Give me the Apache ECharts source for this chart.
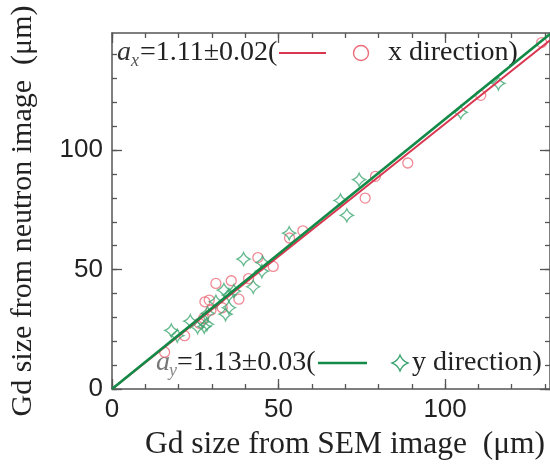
<!DOCTYPE html>
<html>
<head>
<meta charset="utf-8">
<script src="https://cdn.jsdelivr.net/npm/echarts@6/dist/echarts.min.js"></script>
<style>
  html, body { margin: 0; padding: 0; background: #fff; }
  #chart { width: 550px; height: 466px; }
</style>
</head>
<body>
<div id="chart"></div>
<script>
// Gd particle sizes: [size from SEM image, size from neutron image] in µm
var xDirection = [
  [15.8, 15.4], [21.8, 22.3], [26.2, 27.5], [27.5, 29.6], [27.9, 36.5],
  [29.2, 37.2], [29.7, 33.0], [31.2, 44.2], [33.1, 34.0], [35.8, 45.3],
  [38.1, 37.6], [41.0, 46.2], [43.8, 55.0], [48.4, 51.3], [53.3, 63.2],
  [57.3, 66.2], [76.0, 79.9], [79.1, 89.0], [88.8, 94.6], [110.7, 122.9],
  [129.0, 145.0]
];
var yDirection = [
  [17.8, 24.5], [19.6, 22.3], [23.5, 28.4], [25.7, 25.9], [27.2, 28.2],
  [27.7, 26.1], [28.5, 27.1], [28.7, 31.7], [31.2, 36.5], [33.6, 41.4],
  [34.1, 31.3], [35.1, 34.0], [35.1, 39.3], [36.6, 41.0], [39.5, 54.4],
  [42.4, 42.8], [45.2, 52.9], [45.0, 49.3], [53.2, 65.2], [68.6, 78.9],
  [70.5, 72.7], [74.2, 87.6], [104.7, 115.8], [116.0, 127.9]
];
// fitted slopes of neutron size vs SEM size
var slopeX = 1.11, slopeXErr = 0.02;
var slopeY = 1.13, slopeYErr = 0.03;

var xMax = 131.5, yMax = 149;
var xMinorTicks = [0, 10, 20, 30, 40, 50, 60, 70, 80, 90, 100, 110, 120, 130];
var xMajorTicks = [0, 50, 100];
var yMinorTicks = [0, 10, 20, 30, 40, 50, 60, 70, 80, 90, 100, 110, 120, 130, 140];
var yMajorTicks = [0, 50, 100];

var RED = '#d9364f';
var RED_MARK = '#ec6c7a';
var GREEN = '#138a47';
var GREEN_MARK = '#3fa772';
var AXIS = '#555';
var SERIF = '"Liberation Serif", "Times New Roman", serif';
var SANS = '"Liberation Sans", Arial, sans-serif';

// four-pointed star marker with gently concave sides
var starPath = 'path://M0,-10 Q2.8,-2.8 10,0 Q2.8,2.8 0,10 Q-2.8,2.8 -10,0 Q-2.8,-2.8 0,-10 Z';

// same star outline as polygon points, for the legend sample
function starOutline(cx, cy, r) {
  var tips = [[0, -1], [1, 0], [0, 1], [-1, 0]];
  var pts = [];
  for (var i = 0; i < 4; i++) {
    var a = tips[i], b = tips[(i + 1) % 4];
    var c = [(a[0] + b[0]) * 0.28, (a[1] + b[1]) * 0.28];
    for (var k = 0; k < 10; k++) {
      var t = k / 10;
      var px = (1 - t) * (1 - t) * a[0] + 2 * (1 - t) * t * c[0] + t * t * b[0];
      var py = (1 - t) * (1 - t) * a[1] + 2 * (1 - t) * t * c[1] + t * t * b[1];
      pts.push([cx + px * r, cy + py * r]);
    }
  }
  return pts;
}

function fitLine(slope) {
  return [[0, 0], [xMax, slope * xMax]];
}

function valueAxis(opts) {
  var base = {
    type: 'value',
    min: 0,
    max: opts.max,
    position: opts.position,
    splitLine: { show: false },
    axisLine: { show: opts.line, onZero: false, lineStyle: { color: AXIS, width: 1.5 } },
    axisTick: {
      show: true, inside: true, length: opts.len,
      customValues: opts.ticks,
      lineStyle: { color: AXIS, width: 1.3 }
    },
    axisLabel: { show: false }
  };
  if (opts.labels) {
    base.axisLabel = {
      show: true, customValues: opts.ticks,
      fontFamily: SANS, fontSize: 26, color: '#222', margin: opts.margin
    };
  }
  if (opts.name) {
    base.name = opts.name;
    base.nameLocation = 'middle';
    base.nameGap = opts.nameGap;
    base.nameTextStyle = { fontFamily: SERIF, fontSize: opts.nameSize, color: '#222', padding: opts.namePad || 0 };
  }
  return base;
}

var chart = echarts.init(document.getElementById('chart'), null, { renderer: 'canvas' });

chart.setOption({
  backgroundColor: '#fff',
  animation: false,
  grid: { left: 110, top: 33, width: 443, height: 358, containLabel: false },
  xAxis: [
    valueAxis({ max: xMax, position: 'bottom', line: true, len: 5, ticks: xMinorTicks }),
    valueAxis({ max: xMax, position: 'bottom', line: false, len: 10, ticks: xMajorTicks,
      labels: true, margin: 8, name: 'Gd size from SEM image  (μm)', nameGap: 40,
      nameSize: 31.5, namePad: [0, 0, 0, 28] }),
    valueAxis({ max: xMax, position: 'top', line: true, len: 5, ticks: xMinorTicks }),
    valueAxis({ max: xMax, position: 'top', line: false, len: 10, ticks: xMajorTicks })
  ],
  yAxis: [
    valueAxis({ max: yMax, position: 'left', line: true, len: 5, ticks: yMinorTicks }),
    valueAxis({ max: yMax, position: 'left', line: false, len: 10, ticks: yMajorTicks,
      labels: true, margin: 9, name: 'Gd size from neutron image  (μm)', nameGap: 74, nameSize: 30 }),
    valueAxis({ max: yMax, position: 'right', line: true, len: 5, ticks: yMinorTicks }),
    valueAxis({ max: yMax, position: 'right', line: false, len: 10, ticks: yMajorTicks })
  ],
  series: [
    {
      name: 'x direction',
      type: 'scatter',
      data: xDirection,
      symbol: 'circle',
      symbolSize: 10,
      itemStyle: { color: 'rgba(0,0,0,0)', borderColor: RED_MARK, borderWidth: 1.3 },
      z: 2
    },
    {
      name: 'y direction',
      type: 'scatter',
      data: yDirection,
      symbol: starPath,
      symbolSize: 13,
      itemStyle: { color: 'rgba(0,0,0,0)', borderColor: GREEN_MARK, borderWidth: 1.3 },
      z: 2
    },
    {
      name: 'fit x',
      type: 'line',
      data: fitLine(slopeX),
      showSymbol: false,
      symbol: 'none',
      lineStyle: { color: RED, width: 2 },
      z: 3
    },
    {
      name: 'fit y',
      type: 'line',
      data: fitLine(slopeY),
      showSymbol: false,
      symbol: 'none',
      lineStyle: { color: GREEN, width: 2.6 },
      z: 4
    }
  ],
  graphic: [
    // legend row for the x direction
    { type: 'text', x: 117, y: 53, style: { text: 'a', font: 'italic 28px ' + SERIF, fill: '#333', verticalAlign: 'middle' } },
    { type: 'text', x: 131, y: 61, style: { text: 'x', font: 'italic 18px ' + SERIF, fill: '#555', verticalAlign: 'middle' } },
    { type: 'text', x: 140, y: 53, style: { text: '=' + slopeX.toFixed(2) + '±' + slopeXErr.toFixed(2) + '(', font: '28px ' + SERIF, fill: '#222', verticalAlign: 'middle' } },
    { type: 'line', shape: { x1: 279, y1: 53, x2: 326, y2: 53 }, style: { stroke: RED, lineWidth: 2.2 } },
    { type: 'circle', shape: { cx: 361, cy: 53, r: 7.5 }, style: { fill: 'none', stroke: RED_MARK, lineWidth: 1.4 } },
    { type: 'text', x: 388, y: 53, style: { text: 'x direction)', font: '28px ' + SERIF, fill: '#222', verticalAlign: 'middle' } },

    // legend row for the y direction
    { type: 'text', x: 156, y: 363, style: { text: 'a', font: 'italic 28px ' + SERIF, fill: '#777', verticalAlign: 'middle' } },
    { type: 'text', x: 169, y: 371, style: { text: 'y', font: 'italic 18px ' + SERIF, fill: '#888', verticalAlign: 'middle' } },
    { type: 'text', x: 177, y: 363, style: { text: '=' + slopeY.toFixed(2) + '±' + slopeYErr.toFixed(2) + '(', font: '28px ' + SERIF, fill: '#222', verticalAlign: 'middle' } },
    { type: 'line', shape: { x1: 318, y1: 363, x2: 367, y2: 363 }, style: { stroke: GREEN, lineWidth: 2.4 } },
    { type: 'polygon', shape: { points: starOutline(400, 363, 8) }, style: { fill: 'none', stroke: GREEN_MARK, lineWidth: 1.4 } },
    { type: 'text', x: 412, y: 363, style: { text: 'y direction)', font: '28px ' + SERIF, fill: '#222', verticalAlign: 'middle' } }
  ]
});
</script>
</body>
</html>
